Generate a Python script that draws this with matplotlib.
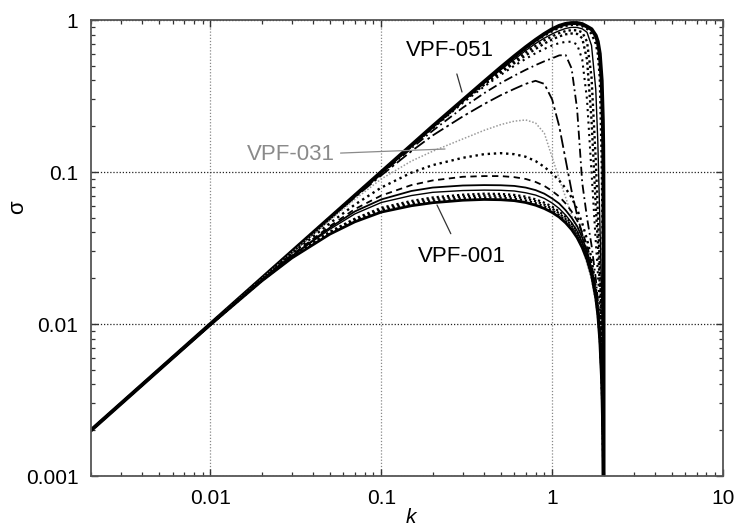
import numpy as np
import matplotlib
matplotlib.use("Agg")
import matplotlib.pyplot as plt
from matplotlib.ticker import FixedLocator, NullFormatter, FixedFormatter

plt.rcParams['font.family'] = ['Liberation Sans', 'DejaVu Sans']

# wavenumber grid (shared by all curves)
k = [0.002, 0.005, 0.01, 0.02, 0.03, 0.05, 0.07, 0.1, 0.15, 0.2, 0.3, 0.4, 0.5, 0.6, 0.7,
     0.8, 0.9, 1.0, 1.1, 1.2, 1.3, 1.4, 1.5, 1.6, 1.7, 1.8, 1.85, 1.9, 1.95, 1.98, 1.99,
     1.995, 1.999, 2.0]

# growth rates (top -> bottom)
s_vpf051 = [0.002, 0.005, 0.01, 0.02, 0.03, 0.05, 0.07, 0.1, 0.15, 0.2, 0.297, 0.393, 0.487, 0.577, 0.662, 0.74, 0.81, 0.87, 0.915, 0.943, 0.955, 0.955, 0.94, 0.905, 0.87, 0.79, 0.72, 0.6, 0.4, 0.22, 0.15, 0.1, 0.04, 0.0005]
s_c2 = [0.002, 0.005, 0.01, 0.02, 0.03, 0.05, 0.07, 0.1, 0.15, 0.199, 0.296, 0.39, 0.48, 0.568, 0.65, 0.725, 0.79, 0.845, 0.89, 0.915, 0.93, 0.928, 0.91, 0.875, 0.81, 0.7, 0.6, 0.42, 0.12, 0.03, 0.012, 0.006, 0.002, 0.0005]
s_c3 = [0.002, 0.005, 0.01, 0.02, 0.03, 0.05, 0.07, 0.1, 0.149, 0.198, 0.295, 0.385, 0.47, 0.55, 0.63, 0.7, 0.76, 0.81, 0.85, 0.88, 0.895, 0.893, 0.875, 0.83, 0.68, 0.35, 0.16, 0.05, 0.015, 0.006, 0.003, 0.0015, 0.0007, 0.0005]
s_c4 = [0.002, 0.005, 0.01, 0.02, 0.03, 0.05, 0.07, 0.0998, 0.149, 0.197, 0.293, 0.38, 0.46, 0.535, 0.61, 0.675, 0.735, 0.78, 0.82, 0.845, 0.858, 0.855, 0.83, 0.72, 0.42, 0.12, 0.055, 0.025, 0.01, 0.004, 0.002, 0.0012, 0.0006, 0.0005]
s_c5 = [0.002, 0.005, 0.01, 0.02, 0.03, 0.05, 0.07, 0.0995, 0.148, 0.196, 0.29, 0.375, 0.45, 0.52, 0.585, 0.645, 0.70, 0.745, 0.78, 0.805, 0.815, 0.81, 0.76, 0.55, 0.22, 0.06, 0.035, 0.018, 0.008, 0.003, 0.0018, 0.001, 0.0006, 0.0005]
s_c6 = [0.002, 0.005, 0.01, 0.02, 0.0299, 0.0497, 0.0695, 0.099, 0.147, 0.194, 0.285, 0.365, 0.435, 0.5, 0.555, 0.605, 0.645, 0.68, 0.705, 0.718, 0.72, 0.69, 0.55, 0.3, 0.1, 0.035, 0.022, 0.013, 0.006, 0.0025, 0.0015, 0.001, 0.0006, 0.0005]
s_c7 = [0.002, 0.005, 0.01, 0.02, 0.0299, 0.0495, 0.069, 0.097, 0.143, 0.187, 0.265, 0.33, 0.385, 0.43, 0.47, 0.505, 0.535, 0.56, 0.585, 0.588, 0.48, 0.26, 0.085, 0.05, 0.033, 0.02, 0.0145, 0.0095, 0.005, 0.0022, 0.0013, 0.0009, 0.0006, 0.0005]
s_c8 = [0.002, 0.005, 0.01, 0.02, 0.0298, 0.049, 0.068, 0.095, 0.137, 0.174, 0.232, 0.28, 0.32, 0.352, 0.38, 0.398, 0.38, 0.3, 0.2, 0.12, 0.075, 0.052, 0.039, 0.03, 0.023, 0.016, 0.0125, 0.0086, 0.0046, 0.002, 0.0012, 0.0008, 0.0006, 0.0005]
s_vpf031 = [0.002, 0.005, 0.01, 0.0198, 0.0295, 0.048, 0.066, 0.09, 0.118, 0.137, 0.165, 0.188, 0.205, 0.216, 0.22, 0.21, 0.18, 0.125, 0.09, 0.068, 0.052, 0.041, 0.032, 0.025, 0.0195, 0.0138, 0.0107, 0.0074, 0.004, 0.0018, 0.0011, 0.0008, 0.0006, 0.0005]
s_c10 = [0.002, 0.005, 0.01, 0.0197, 0.029, 0.046, 0.061, 0.079, 0.099, 0.111, 0.124, 0.131, 0.133, 0.131, 0.126, 0.118, 0.108, 0.098, 0.088, 0.078, 0.068, 0.057, 0.046, 0.036, 0.027, 0.0175, 0.0132, 0.009, 0.0047, 0.002, 0.0012, 0.0008, 0.0006, 0.0005]
s_c11 = [0.002, 0.005, 0.01, 0.0195, 0.0285, 0.044, 0.057, 0.07, 0.082, 0.088, 0.093, 0.094, 0.094, 0.0925, 0.09, 0.086, 0.081, 0.075, 0.069, 0.062, 0.055, 0.048, 0.04, 0.033, 0.025, 0.017, 0.013, 0.009, 0.0048, 0.002, 0.0012, 0.0008, 0.0006, 0.0005]
s_c12 = [0.002, 0.005, 0.01, 0.0195, 0.028, 0.043, 0.055, 0.066, 0.075, 0.079, 0.0815, 0.082, 0.0818, 0.081, 0.079, 0.076, 0.072, 0.067, 0.062, 0.056, 0.05, 0.044, 0.037, 0.03, 0.023, 0.016, 0.0125, 0.0085, 0.0045, 0.002, 0.0012, 0.0008, 0.0006, 0.0005]
s_c13 = [0.002, 0.005, 0.01, 0.0194, 0.028, 0.042, 0.053, 0.063, 0.07, 0.0735, 0.0755, 0.076, 0.0758, 0.075, 0.073, 0.0705, 0.067, 0.0625, 0.0575, 0.052, 0.0465, 0.041, 0.0345, 0.028, 0.0218, 0.0152, 0.0118, 0.0081, 0.0043, 0.0019, 0.0011, 0.0008, 0.0006, 0.0005]
s_b4 = [0.002, 0.005, 0.01, 0.0194, 0.028, 0.0405, 0.0493, 0.0582, 0.0645, 0.068, 0.0709, 0.072, 0.0717, 0.0707, 0.0689, 0.0661, 0.0628, 0.0592, 0.055, 0.0505, 0.0456, 0.0404, 0.0347, 0.0289, 0.0229, 0.0162, 0.0125, 0.0085, 0.0045, 0.002, 0.0012, 0.0008, 0.0006, 0.0005]
s_b3 = [0.002, 0.005, 0.0099, 0.0193, 0.0277, 0.04, 0.0486, 0.057, 0.063, 0.0663, 0.069, 0.07, 0.0697, 0.0688, 0.067, 0.0643, 0.061, 0.0575, 0.0535, 0.049, 0.0443, 0.0392, 0.0337, 0.028, 0.0222, 0.0157, 0.0121, 0.0082, 0.0043, 0.0019, 0.0011, 0.0008, 0.0006, 0.0005]
s_b2 = [0.002, 0.005, 0.0099, 0.0193, 0.0274, 0.0395, 0.0478, 0.0558, 0.0615, 0.0645, 0.0671, 0.068, 0.0677, 0.0668, 0.065, 0.0624, 0.0593, 0.0559, 0.052, 0.0477, 0.0431, 0.0381, 0.0328, 0.0273, 0.0216, 0.0153, 0.0118, 0.008, 0.0042, 0.0018, 0.0011, 0.0007, 0.0006, 0.0005]
s_vpf001 = [0.002, 0.005, 0.0099, 0.0192, 0.0272, 0.039, 0.047, 0.0545, 0.06, 0.0628, 0.0652, 0.066, 0.0657, 0.0648, 0.063, 0.0605, 0.0575, 0.0542, 0.0505, 0.0463, 0.0418, 0.037, 0.0318, 0.0265, 0.021, 0.0148, 0.0115, 0.0078, 0.0041, 0.0018, 0.0011, 0.0007, 0.0006, 0.0005]

curves = [s_vpf051, s_c2, s_c3, s_c4, s_c5, s_c6, s_c7, s_c8, s_vpf031, s_c10,
          s_c11, s_c12, s_c13, s_b4, s_b3, s_b2, s_vpf001]

# styles (linestyle, linewidth, color)
dot = (0, (1.0, 1.3))
styles = [
    ('-', 2.8, 'black'),
    (dot, 1.7, 'black'),
    ('-', 1.0, 'black'),
    (dot, 1.7, 'black'),
    (dot, 1.7, 'black'),
    ((0, (1.0, 2.0)), 1.5, 'black'),
    ((0, (5, 2, 1, 2)), 1.3, 'black'),
    ((0, (7, 2, 1.5, 2)), 1.3, 'black'),
    ((0, (1.0, 1.2)), 1.1, '#9a9a9a'),
    ((0, (1.0, 1.6)), 1.7, 'black'),
    ((0, (3.5, 2.5)), 1.3, 'black'),
    ('-', 1.3, 'black'),
    ('-', 1.0, 'black'),
    (dot, 1.6, 'black'),
    (dot, 1.6, 'black'),
    (dot, 1.6, 'black'),
    ('-', 2.0, 'black'),
]

fig = plt.figure(figsize=(7.4, 5.3), dpi=100)
ax = fig.add_axes([91 / 740, 54 / 530, 632 / 740, 456 / 530])

for s, (ls, lw, c) in zip(curves, styles):
    ax.plot(k, s, linestyle=ls, linewidth=lw, color=c)

ax.set_xscale('log')
ax.set_yscale('log')
ax.set_xlim(0.002, 10)
ax.set_ylim(0.001, 1)

xt = [0.01, 0.1, 1, 10]
xtl = ['0.01', '0.1', '1', '10']
yt = [0.001, 0.01, 0.1, 1]
ytl = ['0.001', '0.01', '0.1', '1']
ax.xaxis.set_major_locator(FixedLocator(xt))
ax.xaxis.set_major_formatter(FixedFormatter(xtl))
ax.yaxis.set_major_locator(FixedLocator(yt))
ax.yaxis.set_major_formatter(FixedFormatter(ytl))
xminor = [m * 10.0 ** e for e in range(-3, 1) for m in range(2, 10)]
yminor = [m * 10.0 ** e for e in range(-3, 0) for m in range(2, 10)]
ax.xaxis.set_minor_locator(FixedLocator(xminor))
ax.yaxis.set_minor_locator(FixedLocator(yminor))
ax.xaxis.set_minor_formatter(NullFormatter())
ax.yaxis.set_minor_formatter(NullFormatter())

ax.tick_params(which='both', direction='in', top=True, right=True, colors='#333333',
               labelcolor='black', labelsize=15)
ax.tick_params(which='major', length=5, width=1.0, pad=9)
ax.tick_params(which='minor', length=3, width=0.9)
for sp in ax.spines.values():
    sp.set_color('#555555')
    sp.set_linewidth(1.3)

ax.grid(axis='y', which='major', linestyle=(0, (1, 1.5)), color='#222222', linewidth=0.9)
ax.grid(axis='x', which='major', linestyle=(0, (1, 1.5)), color='#888888', linewidth=0.9)

ax.set_xlabel('k', fontsize=15, style='italic')
ax.set_ylabel('σ', fontsize=16)
ax.xaxis.set_label_coords(0.506, -0.07)
ax.yaxis.set_label_coords(-0.1, 0.59)

def ax_pt(px, py):
    return ((px - 91) / 632, (476 - py) / 456)

ax.annotate('VPF-051', xy=ax_pt(462, 92), xytext=ax_pt(450, 50), xycoords='axes fraction',
            textcoords='axes fraction', ha='center', va='center', fontsize=16, color='black',
            arrowprops=dict(arrowstyle='-', lw=0.9, color='#333333', shrinkA=8, shrinkB=0))
ax.annotate('VPF-031', xy=ax_pt(445, 149), xytext=ax_pt(291, 155), xycoords='axes fraction',
            textcoords='axes fraction', ha='center', va='center', fontsize=16, color='#8a8a8a',
            arrowprops=dict(arrowstyle='-', lw=0.9, color='#8a8a8a', shrinkA=2, shrinkB=0))
ax.annotate('VPF-001', xy=ax_pt(437, 205), xytext=ax_pt(462, 257), xycoords='axes fraction',
            textcoords='axes fraction', ha='center', va='center', fontsize=16, color='black',
            arrowprops=dict(arrowstyle='-', lw=0.9, color='#333333', shrinkA=8, shrinkB=0))

fig.savefig('out.png', dpi=100)
